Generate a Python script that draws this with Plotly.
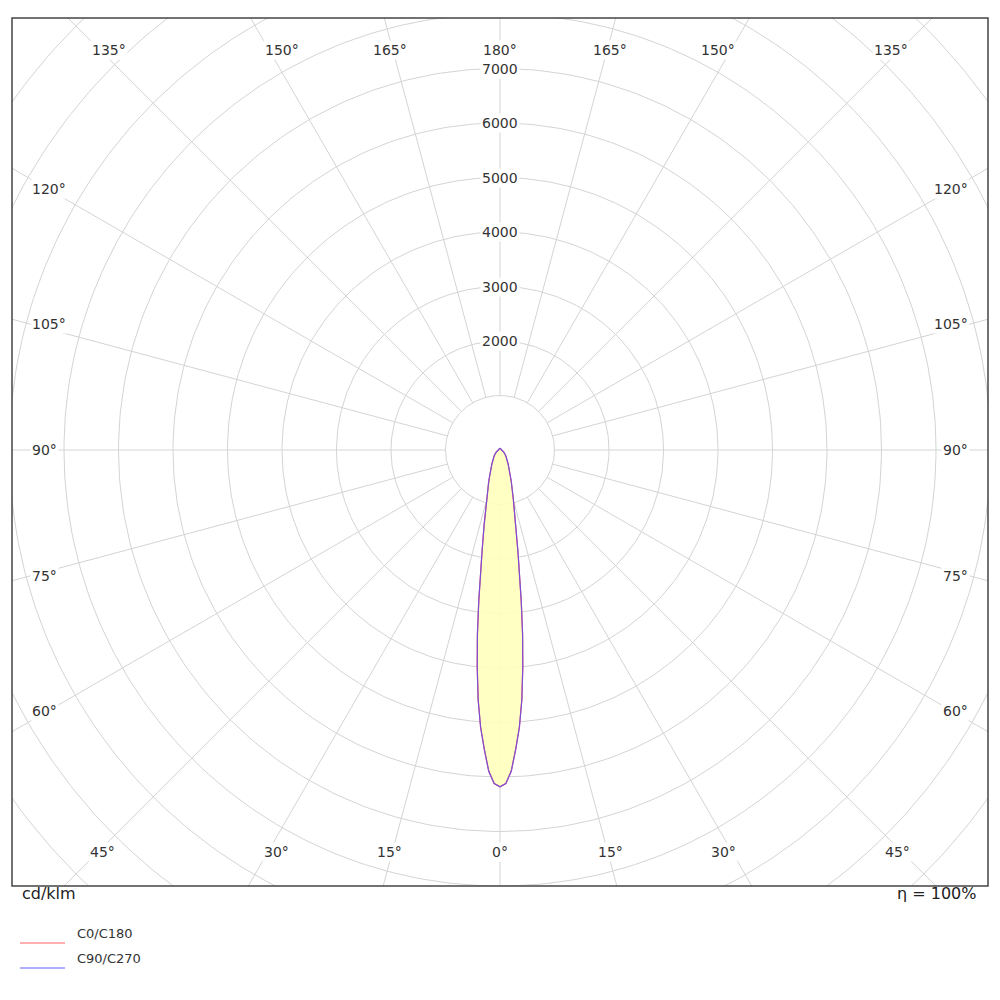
import numpy as np
import plotly.graph_objects as go

# intensity distribution, cd/klm, vs gamma angle (symmetric in both planes)
gamma = [0, 1, 2, 3, 4, 5, 6, 7, 8, 10, 12, 15, 20, 30, 45, 60, 90, 120, 150, 180]
intensity = [6180, 6120, 5900, 5500, 5100, 4600, 4000, 3400, 2800, 1900, 1400, 950,
             600, 300, 150, 80, 30, 25, 30, 35]
ring_values = list(range(1000, 13000, 1000))
ring_labels = [2000, 3000, 4000, 5000, 6000, 7000]
spoke_angles = list(range(0, 360, 15))
gamma_labels = list(range(0, 181, 15))

PX = 1000 / 54.5  # data units per pixel
GRID = "#d4d4d4"
FONT = "DejaVu Sans"

def to_xy(g, r):
    g = np.radians(np.asarray(g, dtype=float))
    return np.asarray(r) * np.sin(g), -np.asarray(r) * np.cos(g)

fig = go.Figure()

# rings
t = np.linspace(0, 2 * np.pi, 361)
for r in ring_values:
    fig.add_trace(go.Scatter(x=r * np.cos(t), y=r * np.sin(t), mode="lines",
                             line=dict(color=GRID, width=1), hoverinfo="skip", showlegend=False))
# spokes
for a in spoke_angles:
    x, y = to_xy([a, a], [1000, 16000])
    fig.add_trace(go.Scatter(x=x, y=y, mode="lines", line=dict(color=GRID, width=1),
                             hoverinfo="skip", showlegend=False))

# full curve: mirror gamma for the other half-plane
g_full = [-g for g in gamma[::-1]] + gamma[1:]
i_full = intensity[::-1] + intensity[1:]
cx, cy = to_xy(g_full, i_full)
fig.add_trace(go.Scatter(x=cx, y=cy, mode="lines", fill="toself", fillcolor="rgba(255,255,190,0.9)",
                         line=dict(color="#ff6060", width=1.2), name="C0/C180", showlegend=False))
fig.add_trace(go.Scatter(x=cx, y=cy, mode="lines", line=dict(color="#7a4fd8", width=1.2),
                         name="C90/C270", showlegend=False))

# radial labels
for r in ring_labels:
    fig.add_annotation(x=0, y=r, text=str(r), showarrow=False, bgcolor="white",
                       font=dict(family=FONT, size=14, color="#333"), borderpad=1)

def paper(px, py):
    return (px - 12) / 976, (886 - py) / 868

# gamma labels at the frame
for g in gamma_labels:
    for side in (-1, 1):
        if g in (0, 180) and side == -1:
            continue
        dx, dy = np.sin(np.radians(g)), -np.cos(np.radians(g))
        lim_y = 410 if dy > 0 else 412
        s = min(470 / max(abs(dx), 1e-9), lim_y / max(abs(dy), 1e-9))
        px, py = 500 + side * dx * s, 450 - dy * s
        xp, yp = paper(px, py)
        fig.add_annotation(x=xp, y=yp, xref="paper", yref="paper", text=f"{g}°", showarrow=False,
                           bgcolor="white", font=dict(family=FONT, size=14, color="#333"))

xp, yp = paper(20, 905)
fig.add_annotation(x=xp, y=yp, xref="paper", yref="paper", text="cd/klm", showarrow=False,
                   xanchor="left", font=dict(family=FONT, size=16, color="#222"))
xp, yp = paper(978, 905)
fig.add_annotation(x=xp, y=yp, xref="paper", yref="paper", text="η = 100%", showarrow=False,
                   xanchor="right", font=dict(family=FONT, size=16, color="#222"))

# legend entries
for name, color, py in (("C0/C180", "#ff6060", 943), ("C90/C270", "#6060ff", 968)):
    x0, y0 = paper(20, py)
    x1, _ = paper(65, py)
    fig.add_shape(type="line", xref="paper", yref="paper", x0=x0, x1=x1, y0=y0, y1=y0,
                  line=dict(color=color, width=1))
    xt, _ = paper(75, py)
    fig.add_annotation(x=xt, y=y0, xref="paper", yref="paper", text=name, showarrow=False,
                       xanchor="left", font=dict(family=FONT, size=13, color="#333"))

# page has an 8px body margin; size the figure so the plot frame lands at 12..988 x 18..886
fig.update_layout(
    width=984, height=984,
    margin=dict(l=4, r=4, t=10, b=106),
    plot_bgcolor="white", paper_bgcolor="white",
    xaxis=dict(range=[-488 * PX, 488 * PX], visible=False, fixedrange=True),
    yaxis=dict(range=[-436 * PX, 432 * PX], visible=False, fixedrange=True),
)
fig.add_shape(type="rect", xref="paper", yref="paper", x0=0, x1=1, y0=0, y1=1,
              line=dict(color="#444", width=1.5))

fig.write_html("out.html")
